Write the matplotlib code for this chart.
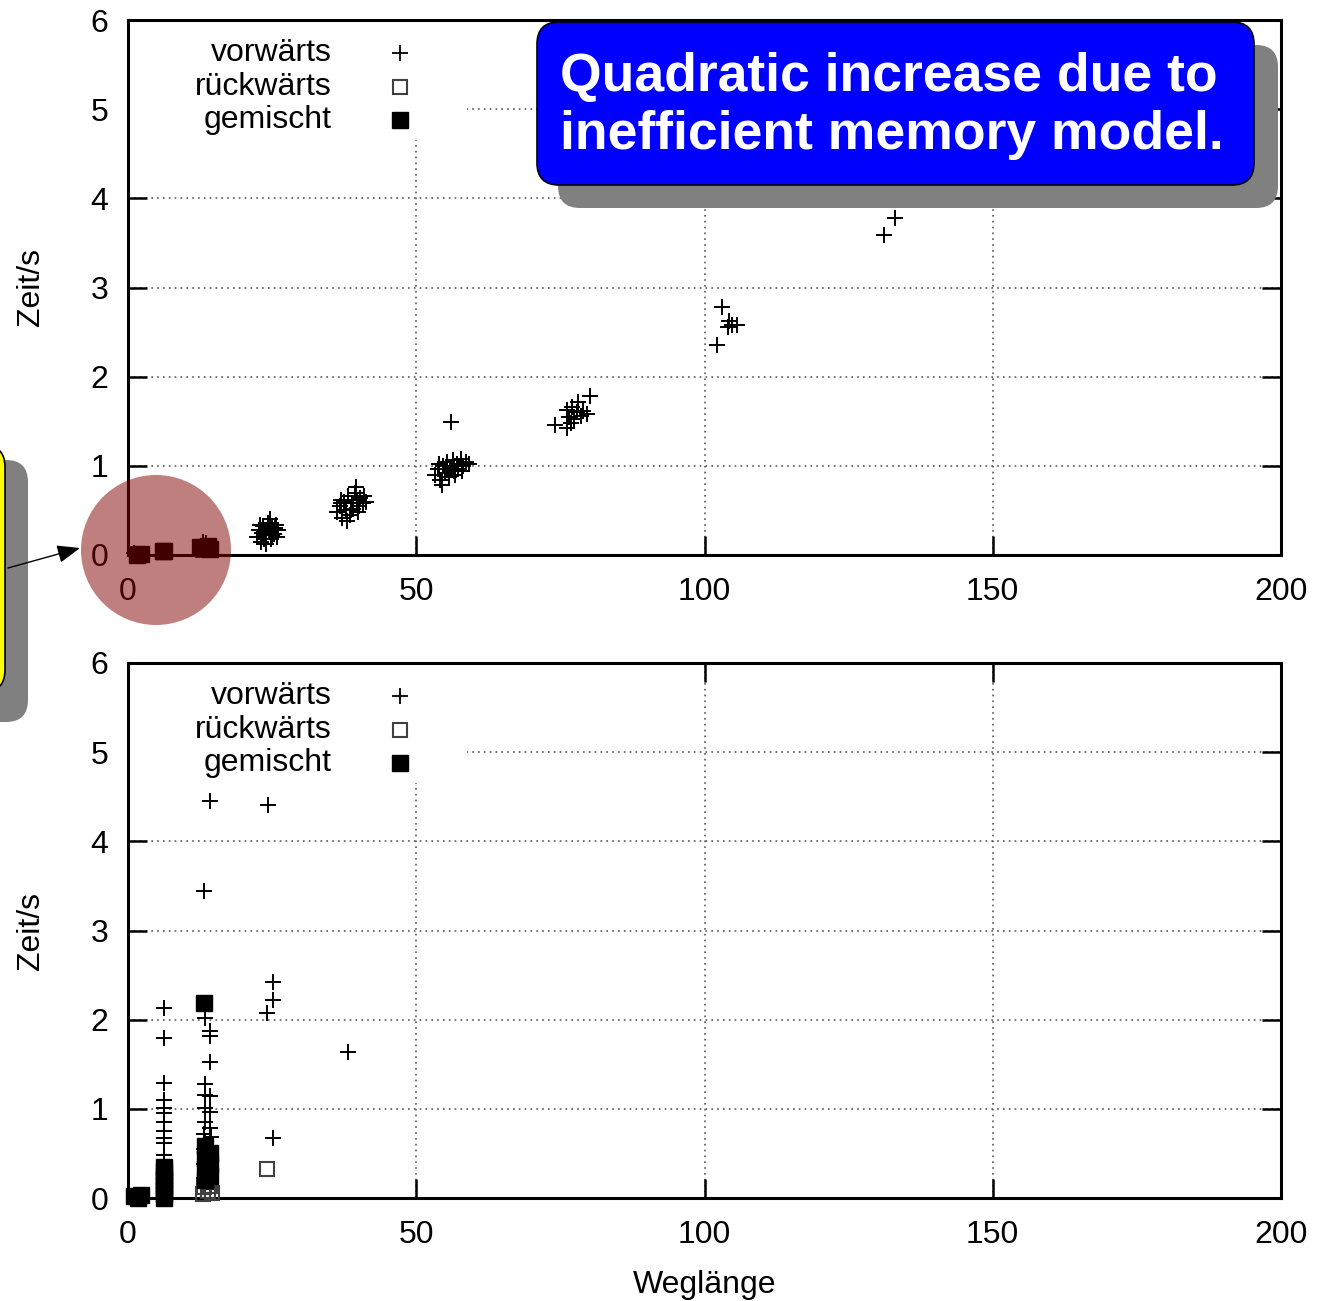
import matplotlib
matplotlib.use("Agg")
import matplotlib.pyplot as plt
from matplotlib.patches import FancyBboxPatch, Circle, Rectangle

plt.rcParams["font.family"] = ["Liberation Sans", "DejaVu Sans"]

# ── data: top panel ────────────────────────────────────────────────────────
top_vor_x = [22.3, 22.8, 23.0, 23.5, 23.8, 24.0, 24.2, 24.5, 24.8, 25.0, 25.3, 25.6, 25.8, 26.1, 23.2, 24.6,
             23.6, 24.9, 25.5, 22.9,
             36.3, 36.8, 37.2, 37.5, 37.9, 38.2, 38.5, 38.8, 39.1, 39.4, 39.7, 40.0, 40.3, 40.7, 41.2, 38.0, 39.5,
             37.0, 38.6, 39.9, 40.9, 36.9,
             53.2, 53.8, 54.2, 54.6, 55.0, 55.3, 55.7, 56.0, 56.3, 56.6, 57.0, 57.3, 57.7, 58.1, 58.6, 59.2, 54.5, 56.1,
             55.4, 56.8, 57.9, 54.0,
             74.1, 76.1, 76.1, 76.5, 77.0, 77.3, 77.8, 78.1, 78.5, 79.0, 79.6, 80.1, 76.8,
             102.2, 103.1, 104.1, 104.7, 105.6, 104.3,
             131.1, 133.0,
             1.0, 6.0, 13.0, 13.6]
top_vor_y = [0.20, 0.28, 0.15, 0.32, 0.22, 0.12, 0.36, 0.27, 0.18, 0.30, 0.24, 0.34, 0.20, 0.28, 0.25, 0.40,
             0.18, 0.22, 0.30, 0.34,
             0.48, 0.55, 0.42, 0.60, 0.50, 0.66, 0.45, 0.58, 0.52, 0.70, 0.62, 0.55, 0.64, 0.58, 0.60, 0.38, 0.76,
             0.62, 0.50, 0.48, 0.66, 0.58,
             0.90, 0.96, 0.84, 1.00, 0.92, 1.04, 0.88, 0.98, 1.06, 0.94, 1.02, 0.96, 1.08, 1.00, 1.04, 1.02, 0.78, 1.49,
             0.96, 0.90, 0.94, 1.02,
             1.46, 1.42, 1.63, 1.55, 1.66, 1.52, 1.60, 1.72, 1.56, 1.62, 1.58, 1.78, 1.48,
             2.35, 2.78, 2.56, 2.58, 2.58, 2.62,
             3.59, 3.78,
             0.02, 0.04, 0.15, 0.13]
top_rueck_x = [1.5, 6.0, 13.0]
top_rueck_y = [0.01, 0.03, 0.06]
top_gem_x = [1.5, 2.2, 6.0, 6.3, 12.5, 13.2, 13.9, 14.2]
top_gem_y = [0.00, 0.01, 0.04, 0.05, 0.09, 0.08, 0.10, 0.07]

# ── data: bottom panel ─────────────────────────────────────────────────────
bot_vor_x = [6.3, 6.3, 6.3, 6.3, 6.3, 6.3, 6.3, 6.3, 6.3, 6.3, 6.3, 6.3, 6.3, 6.3,
             14.2, 13.2, 13.4, 14.2, 14.2, 14.2, 13.4, 13.4, 14.2, 13.4, 14.2,
             13.4, 14.2, 13.2, 14.4, 13.4, 14.2, 13.2, 14.4, 13.4, 14.2, 13.2, 14.4, 13.4, 14.2, 13.2, 14.4, 13.4, 14.2,
             24.3, 25.2, 25.2, 24.1, 38.1, 25.2]
bot_vor_y = [2.13, 1.80, 1.29, 1.10, 1.01, 0.95, 0.85, 0.75, 0.67, 0.62, 0.48, 0.41, 0.35, 0.28,
             4.45, 3.44, 2.02, 1.87, 1.82, 1.53, 1.28, 1.16, 1.14, 1.01, 0.97,
             0.85, 0.78, 0.72, 0.68, 0.62, 0.58, 0.55, 0.50, 0.46, 0.42, 0.38, 0.34, 0.30, 0.26, 0.22, 0.18, 0.14, 0.10,
             4.41, 2.42, 2.22, 2.07, 1.64, 0.67]
bot_rueck_x = [24.1, 13.0, 13.8, 14.5, 13.2, 14.2, 6.2]
bot_rueck_y = [0.33, 0.05, 0.08, 0.06, 0.12, 0.14, 0.05]
bot_gem_x = [13.2, 1.0, 1.8, 2.2,
             6.3, 6.3, 6.3, 6.3, 6.3, 6.3, 6.3, 6.3,
             13.3, 14.3, 13.3, 14.3, 13.3, 14.3, 13.3]
bot_gem_y = [2.19, 0.02, 0.00, 0.03,
             0.00, 0.05, 0.10, 0.15, 0.20, 0.25, 0.30, 0.35,
             0.20, 0.25, 0.32, 0.38, 0.45, 0.50, 0.58]

LEGEND_LABELS = ["vorwärts", "rückwärts", "gemischt"]
X_TICKS = [0, 50, 100, 150, 200]
Y_TICKS = [0, 1, 2, 3, 4, 5, 6]

W, H = 1317, 1301
fig = plt.figure(figsize=(W / 100, H / 100), dpi=100)

FS = 23
GRID_KW = dict(color="0.35", linewidth=1.2, linestyle=(0, (1, 2.5)))


def panel(ax, vx, vy, rx, ry, gx, gy, xlabel=None):
    ax.set_xlim(0, 200)
    ax.set_ylim(0, 6)
    ax.set_xticks(X_TICKS)
    ax.set_yticks(Y_TICKS)
    ax.tick_params(direction="in", length=14, width=1.8, top=True, right=True,
                   labelsize=FS, pad=14)
    ax.tick_params(axis="x", pad=16)
    for s in ax.spines.values():
        s.set_linewidth(2.2)
    for t in X_TICKS[1:-1]:
        ax.axvline(t, zorder=1, **GRID_KW)
    for t in Y_TICKS[1:-1]:
        ax.axhline(t, zorder=1, **GRID_KW)
    # white key box hiding the grid
    ax.add_patch(Rectangle((0, 0.776), 0.294, 0.224, transform=ax.transAxes,
                           facecolor="white", edgecolor="none", zorder=2))

    ax.plot(vx, vy, "+", color="black", markersize=11, markeredgewidth=1.4,
            zorder=3, clip_on=False)
    ax.plot(rx, ry, "s", markerfacecolor="none", markeredgecolor="0.25",
            markersize=10, markeredgewidth=1.5, zorder=4, clip_on=False)
    ax.plot(gx, gy, "s", color="black", markersize=11, zorder=5, clip_on=False)

    # key (gnuplot style: label right-aligned, symbol right)
    rows = [0.938, 0.875, 0.813]
    styles = [dict(marker="+", color="black", markersize=11, markeredgewidth=1.3),
              dict(marker="s", markerfacecolor="none", markeredgecolor="0.25",
                   markersize=10, markeredgewidth=1.5),
              dict(marker="s", color="black", markersize=11)]
    for lab, yy, st in zip(LEGEND_LABELS, rows, styles):
        ax.text(0.177, yy, lab, transform=ax.transAxes, ha="right", va="center",
                fontsize=FS, zorder=6)
        ax.plot([0.236], [yy], transform=ax.transAxes, linestyle="none",
                zorder=6, clip_on=False, **st)

    ax.set_ylabel("Zeit/s", fontsize=FS, labelpad=32)
    if xlabel:
        ax.set_xlabel(xlabel, fontsize=FS, labelpad=14)


ax1 = fig.add_axes([128 / W, 1 - 555 / H, 1153 / W, 535 / H])
ax2 = fig.add_axes([128 / W, 1 - 1198 / H, 1153 / W, 535 / H])
panel(ax1, top_vor_x, top_vor_y, top_rueck_x, top_rueck_y, top_gem_x, top_gem_y)
panel(ax2, bot_vor_x, bot_vor_y, bot_rueck_x, bot_rueck_y, bot_gem_x, bot_gem_y,
      xlabel="Weglänge")

# ── overlay annotations in pixel coordinates ───────────────────────────────
ov = fig.add_axes([0, 0, 1, 1], zorder=10)
ov.set_xlim(0, W)
ov.set_ylim(H, 0)
ov.axis("off")

# blue callout with shadow
ov.add_patch(FancyBboxPatch((558, 45), 720, 163, boxstyle="round,pad=0,rounding_size=22",
                            facecolor="#808080", edgecolor="none"))
ov.add_patch(FancyBboxPatch((537, 22), 717, 163, boxstyle="round,pad=0,rounding_size=22",
                            facecolor="#0000ff", edgecolor="black", linewidth=1.2))
ov.text(560, 106, "Quadratic increase due to\ninefficient memory model.",
        ha="left", va="center", color="white", fontsize=38.5, fontweight="bold",
        linespacing=1.19)

# yellow callout (cut at the left edge) with shadow
ov.add_patch(FancyBboxPatch((-200, 460), 228, 262, boxstyle="round,pad=0,rounding_size=22",
                            facecolor="#808080", edgecolor="none"))
ov.add_patch(FancyBboxPatch((-220, 445), 225, 247, boxstyle="round,pad=0,rounding_size=22",
                            facecolor="#ffff00", edgecolor="black", linewidth=1.2))

# highlight circle
ov.add_patch(Circle((156, 550), 75, facecolor="#800000", alpha=0.5, edgecolor="none"))

# arrow
ov.annotate("", xy=(80, 548), xytext=(8, 568),
            arrowprops=dict(arrowstyle="-|>,head_length=1.4,head_width=0.55",
                            color="black", linewidth=1.0, shrinkA=0, shrinkB=0))

fig.savefig("out.png", dpi=100)
